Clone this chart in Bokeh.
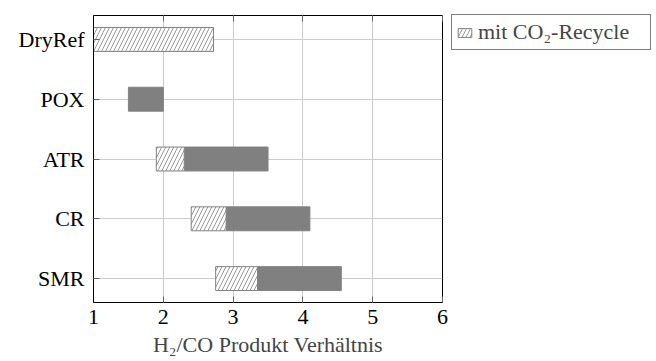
from bokeh.plotting import figure
from bokeh.models import (Legend, LegendItem, FixedTicker, LinearAxis, Range1d,
                          ColumnDataSource)
from bokeh.embed import file_html
from bokeh.resources import INLINE

# ---- data ----
categories = ["DryRef", "POX", "ATR", "CR", "SMR"]
recycle_cats = ["DryRef", "ATR", "CR", "SMR"]
recycle_start = [1.0, 1.9, 2.4, 2.75]
recycle_end = [2.72, 2.3, 2.9, 3.35]
plain_cats = ["POX", "ATR", "CR", "SMR"]
plain_start = [1.5, 2.3, 2.9, 3.35]
plain_end = [2.0, 3.5, 4.1, 4.55]
x_ticks = [1, 2, 3, 4, 5, 6]

FONT = "Liberation Serif"
n = len(categories)
ypos = {c: n - 1 - i for i, c in enumerate(categories)}

p = figure(frame_width=349, frame_height=287, x_range=Range1d(1, 6),
           y_range=Range1d(-0.4, n - 1 + 0.4),
           output_backend="svg", toolbar_location=None,
           min_border_left=93, min_border_right=0, min_border_top=15, min_border_bottom=59)

p.outline_line_color = "black"
p.outline_line_width = 1
p.background_fill_color = "white"

# grid
p.xgrid.ticker = FixedTicker(ticks=x_ticks)
p.ygrid.ticker = FixedTicker(ticks=list(range(n)))
p.grid.grid_line_color = "#cccccc"
p.grid.grid_line_width = 1

# axes
p.xaxis.ticker = FixedTicker(ticks=x_ticks)
p.yaxis.ticker = FixedTicker(ticks=list(range(n)))
p.yaxis.major_label_overrides = {ypos[c]: c for c in categories}
for ax in (p.xaxis[0], p.yaxis[0]):
    ax.axis_line_color = "black"
    ax.major_tick_in = 6
    ax.major_tick_out = 0
    ax.minor_tick_line_color = None
    ax.major_tick_line_color = "#666666"
    ax.major_label_text_font = FONT
    ax.major_label_text_font_size = "22px"
    ax.major_label_text_color = "black"
p.xaxis.major_label_standoff = 7
p.yaxis.major_label_standoff = 9
p.xaxis.axis_label = "H₂/CO Produkt Verhältnis"
p.xaxis.axis_label_text_font = FONT
p.xaxis.axis_label_text_font_size = "22px"
p.xaxis.axis_label_text_font_style = "normal"
p.xaxis.axis_label_standoff = 5

top = LinearAxis(ticker=FixedTicker(ticks=x_ticks),
                 major_label_overrides={t: "" for t in x_ticks},
                 major_tick_in=6, major_tick_out=0, minor_tick_line_color=None,
                 major_tick_line_color="#666666", axis_line_color=None, major_label_standoff=0)
p.add_layout(top, "above")

# bars
src_plain = ColumnDataSource(dict(y=[ypos[c] for c in plain_cats], left=plain_start, right=plain_end))
src_rec = ColumnDataSource(dict(y=[ypos[c] for c in recycle_cats], left=recycle_start, right=recycle_end))

p.hbar(y="y", left="left", right="right", height=0.4, source=src_plain,
       fill_color="#808080", line_color="#808080", line_width=1)
r_rec = p.hbar(y="y", left="left", right="right", height=0.4, source=src_rec,
               fill_color="white", line_color="#808080", line_width=1,
               hatch_pattern="/", hatch_color="#808080", hatch_scale=8, hatch_weight=0.8)

legend = Legend(items=[LegendItem(label="mit CO₂-Recycle", renderers=[r_rec])],
                location=(9, 252), border_line_color="black", border_line_width=1,
                label_text_font=FONT, label_text_font_size="22px",
                glyph_width=17, glyph_height=11, padding=4, margin=0, spacing=0,
                label_standoff=5, label_width=168, background_fill_color="white")
p.add_layout(legend, "right")

open("out.html", "w").write(file_html(p, INLINE))
